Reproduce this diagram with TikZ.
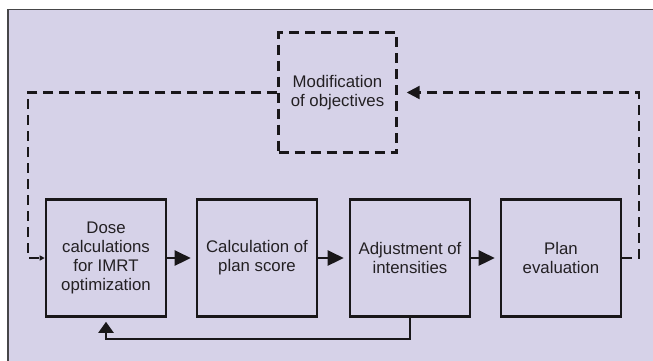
\documentclass[tikz,border=0pt]{standalone}
\usepackage{fontspec}
\setmainfont{Liberation Sans}
\usetikzlibrary{arrows.meta}
\definecolor{bg}{RGB}{214,210,232}
\definecolor{ink}{RGB}{25,23,25}
\definecolor{txt}{RGB}{35,32,35}
\definecolor{frame}{RGB}{70,70,72}
\begin{document}
\begin{tikzpicture}[x=1pt,y=-1pt,
  box/.style={draw=ink, line width=2.6pt, minimum width=120pt, minimum height=117pt,
    align=center, font=\fontsize{16.8}{19}\selectfont, text=txt, inner sep=0pt},
  dbox/.style={box, line width=2.4pt, dash pattern=on 10pt off 6pt, minimum width=118pt, minimum height=120pt},
  flow/.style={draw=ink, line width=2.6pt, -{Triangle[length=16pt,width=15pt]}, shorten >=5pt},
  back/.style={draw=ink, line width=2.3pt, dash pattern=on 10pt off 6pt},
  fb/.style={draw=ink, line width=2.2pt}]
\useasboundingbox (0,0) rectangle (653,360);
\clip (0,0) rectangle (653,360);
\fill[white] (0,0) rectangle (653,360);
\draw[frame, line width=1.5pt, fill=bg] (8,9.5) rectangle (700,400);

\node[box]  (b1)  at (106,258) {Dose\\calculations\\for IMRT\\optimization};
\node[box]  (b2)  at (257,258) {Calculation of\\plan score};
\node[box]  (b3)  at (410,258) {Adjustment of\\intensities};
\node[box]  (b4)  at (561,258) {Plan\\evaluation};
\node[dbox] (mod) at (337.5,92.5) {Modification\\of objectives};

\draw[flow] (b1) -- (b2);
\draw[flow] (b2) -- (b3);
\draw[flow] (b3) -- (b4);

\coordinate (lc) at (28,92.5);
\coordinate (rc) at (639,258);
\draw[back, -{Triangle[length=5pt,width=5pt]}] (mod.west) -- (lc) |- (b1.west);
\draw[back, -{Triangle[length=13pt,width=13pt]}, shorten >=9pt] (b4.east) -- (rc) |- (mod.east);
\draw[fb, -{Triangle[length=11pt,width=15pt]}, shorten >=4pt] (b3.south) -- ++(0,21) -| (b1.south);
\end{tikzpicture}
\end{document}
